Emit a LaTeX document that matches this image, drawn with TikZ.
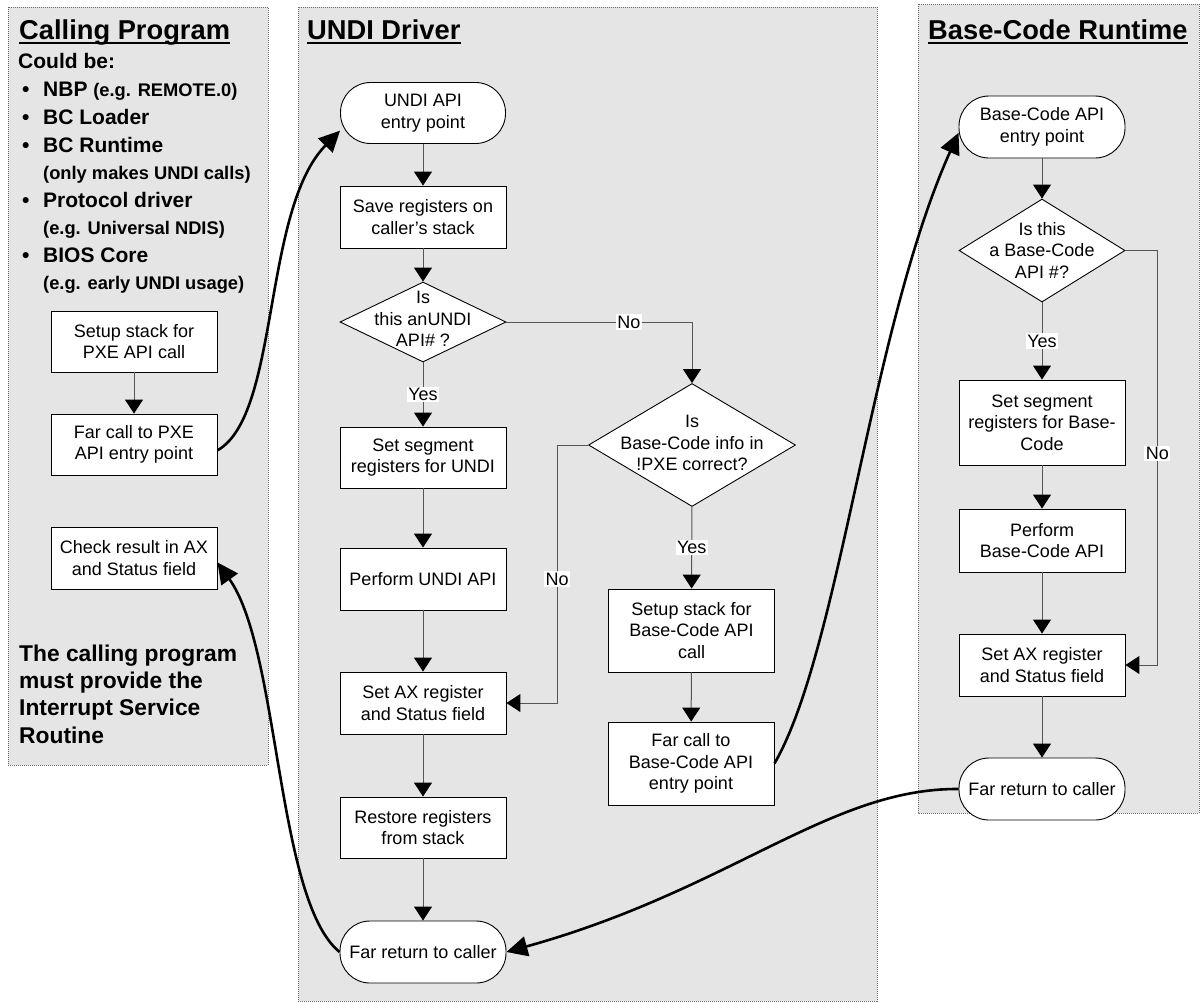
\documentclass[tikz,border=0pt]{standalone}
\usepackage{fontspec}
\setmainfont{Liberation Sans}
\usetikzlibrary{arrows.meta,shapes.geometric}
\definecolor{panelgray}{RGB}{229,229,229}
\definecolor{paneledge}{RGB}{110,110,110}
\definecolor{flowgray}{RGB}{85,85,85}
\newcommand\bodyfs{\fontsize{18}{21.5}\selectfont}
\newcommand\listfs{\fontsize{21}{25}\selectfont\bfseries}
\newcommand\subfs{\fontsize{18.3}{21}\selectfont\bfseries}
\begin{document}
\begin{tikzpicture}[x=1pt,y=-1pt,
  panel/.style={fill=panelgray, draw=paneledge, line width=0.9pt, dash pattern=on 1pt off 1pt},
  box/.style={draw=black, fill=white, line width=0.9pt, minimum width=166pt, align=center, font=\bodyfs, inner sep=0pt},
  term/.style={box, rounded corners=30pt},
  dia/.style={diamond, draw=black, fill=white, line width=0.9pt, inner sep=0pt},
  diatext/.style={align=center, font=\bodyfs, inner sep=0pt},
  flow/.style={draw=flowgray, line width=1pt, -{Triangle[width=18pt,length=14pt,black]}},
  call/.style={draw=black, line width=2.6pt, -{Triangle[width=20pt,length=21pt,black]}},
  lbl/.style={fill=white, inner sep=1.5pt, font=\bodyfs},
  title/.style={anchor=base west, inner sep=0pt, font=\fontsize{27.3}{30}\selectfont\bfseries},
  uline/.style={line width=2.2pt},
  item/.style={anchor=base west, inner sep=0pt, font=\listfs},
  subitem/.style={anchor=base west, inner sep=0pt, font=\subfs},
  note/.style={anchor=base west, inner sep=0pt, font=\fontsize{22.8}{26}\selectfont\bfseries}
]
\useasboundingbox[fill=white] (0,0) rectangle (1201,1002);

% panels
\draw[panel] (8,7) rectangle (268,765);
\draw[panel] (298,7) rectangle (877,1001);
\draw[panel] (918,4) rectangle (1199,813);

% titles
\node[title] (t1) at (19,39) {Calling Program};
\draw[uline] ([yshift=-4pt]t1.base west) -- ([yshift=-4pt]t1.base east);
\node[title] (t2) at (307,39) {UNDI Driver};
\draw[uline] ([yshift=-4pt]t2.base west) -- ([yshift=-4pt]t2.base east);
\node[title] (t3) at (928,39) {Base-Code Runtime};
\draw[uline] ([yshift=-4pt]t3.base west) -- ([yshift=-4pt]t3.base east);

% calling program list
\node[item] (c0) at (18,68) {Could be:};
\node[item] (c1) at (22,96) {\makebox[21pt][l]{•}NBP {\subfs(e.g. REMOTE.0)}};
\node[item] (c2) at (22,124) {\makebox[21pt][l]{•}BC Loader};
\node[item] (c3) at (22,152) {\makebox[21pt][l]{•}BC Runtime};
\node[subitem] (c4) at (43,179) {(only makes UNDI calls)};
\node[item] (c5) at (22,207) {\makebox[21pt][l]{•}Protocol driver};
\node[subitem] (c6) at (43,234) {(e.g. Universal NDIS)};
\node[item] (c7) at (22,262) {\makebox[21pt][l]{•}BIOS Core};
\node[subitem] (c8) at (43,289) {(e.g. early UNDI usage)};

\node[note] (n1) at (19,661) {The calling program};
\node[note] (n2) at (19,688) {must provide the};
\node[note] (n3) at (19,715) {Interrupt Service};
\node[note] (n4) at (19,743) {Routine};

% calling program boxes
\node[box, minimum height=61pt] (lsetup) at (134,341.5) {Setup stack for\\PXE API call};
\node[box, minimum height=61pt] (lfar) at (134,444.5) {Far call to PXE\\API entry point};
\node[box, minimum height=62pt] (lcheck) at (134,558) {Check result in AX\\and Status field};

% UNDI driver
\node[term, minimum width=165pt, minimum height=61pt] (uentry) at (423,113) {UNDI API\\entry point};
\node[box, minimum height=62pt] (usave) at (423,217) {Save registers on\\caller’s stack};
\node[dia, minimum width=166pt, minimum height=80pt] (ud1) at (423,322) {};
\node[diatext] (ud1t) at (423,319) {Is\\this anUNDI\\API\# ?};
\node[box, minimum height=61pt] (useg) at (423,457.5) {Set segment\\registers for UNDI};
\node[box, minimum height=62pt] (uperf) at (423,579) {Perform UNDI API};
\node[box, minimum height=62pt] (usetax) at (423,703) {Set AX register\\and Status field};
\node[box, minimum height=61pt] (urest) at (423,827.5) {Restore registers\\from stack};
\node[term, minimum height=62pt] (uret) at (423,952) {Far return to caller};
\node[dia, minimum width=207pt, minimum height=123pt] (ud2) at (692,445) {};
\node[diatext] (ud2t) at (692,443) {Is\\Base-Code info in\\!PXE correct?};
\node[box, minimum height=83pt] (ubsetup) at (691.5,630.5) {Setup stack for\\Base-Code API\\call};
\node[box, minimum height=83pt] (ubfar) at (691,763.5) {Far call to\\Base-Code API\\entry point};

% Base-code runtime
\node[term, minimum height=62pt] (bentry) at (1042,127) {Base-Code API\\entry point};
\node[dia, minimum width=166pt, minimum height=103pt] (bd) at (1042,250.5) {};
\node[diatext] (bdt) at (1042,250) {Is this\\a Base-Code\\API \#?};
\node[box, minimum height=85pt] (bseg) at (1042,422.5) {Set segment\\registers for Base-\\Code};
\node[box, minimum height=63pt] (bperf) at (1042,540.5) {Perform\\Base-Code API};
\node[box, minimum height=62pt] (bsetax) at (1042,665) {Set AX register\\and Status field};
\node[term, minimum height=62pt] (bret) at (1042,789) {Far return to caller};

% flow connectors
\draw[flow] (lsetup) -- (lfar);
\draw[flow] (uentry) -- (usave);
\draw[flow] (usave) -- (ud1);
\draw[flow] (ud1) -- node[lbl]{Yes} (useg);
\draw[flow] (useg) -- (uperf);
\draw[flow] (uperf) -- (usetax);
\draw[flow] (usetax) -- (urest);
\draw[flow] (urest) -- (uret);
\draw[flow] (ud1.east) -| node[lbl,pos=0.33]{No} (ud2.north);
\draw[flow] (ud2.west) -- ++(-31,0) |- node[lbl,pos=0.26]{No} (usetax.east);
\draw[flow] (ud2) -- node[lbl]{Yes} (ubsetup);
\draw[flow] (ubsetup) -- (ubfar);
\draw[flow] (bentry) -- (bd);
\draw[flow] (bd) -- node[lbl]{Yes} (bseg);
\draw[flow] (bseg) -- (bperf);
\draw[flow] (bperf) -- (bsetax);
\draw[flow] (bsetax) -- (bret);
\draw[flow] (bd.east) -- ++(32,0) |- node[lbl,pos=0.245]{No} (bsetax.east);

% far calls and returns
\draw[call] (lfar.-4) .. controls (280,415) and (262,210) .. (uentry.192);
\draw[call] (uret.west) .. controls (276,900) and (280,650) .. (lcheck.-3);
\draw[call] (ubfar.east) .. controls (840,650) and (870,330) .. (bentry.184);
\draw[call] (bret.west) .. controls (830,788) and (730,890) .. (uret.east);
\end{tikzpicture}
\end{document}
